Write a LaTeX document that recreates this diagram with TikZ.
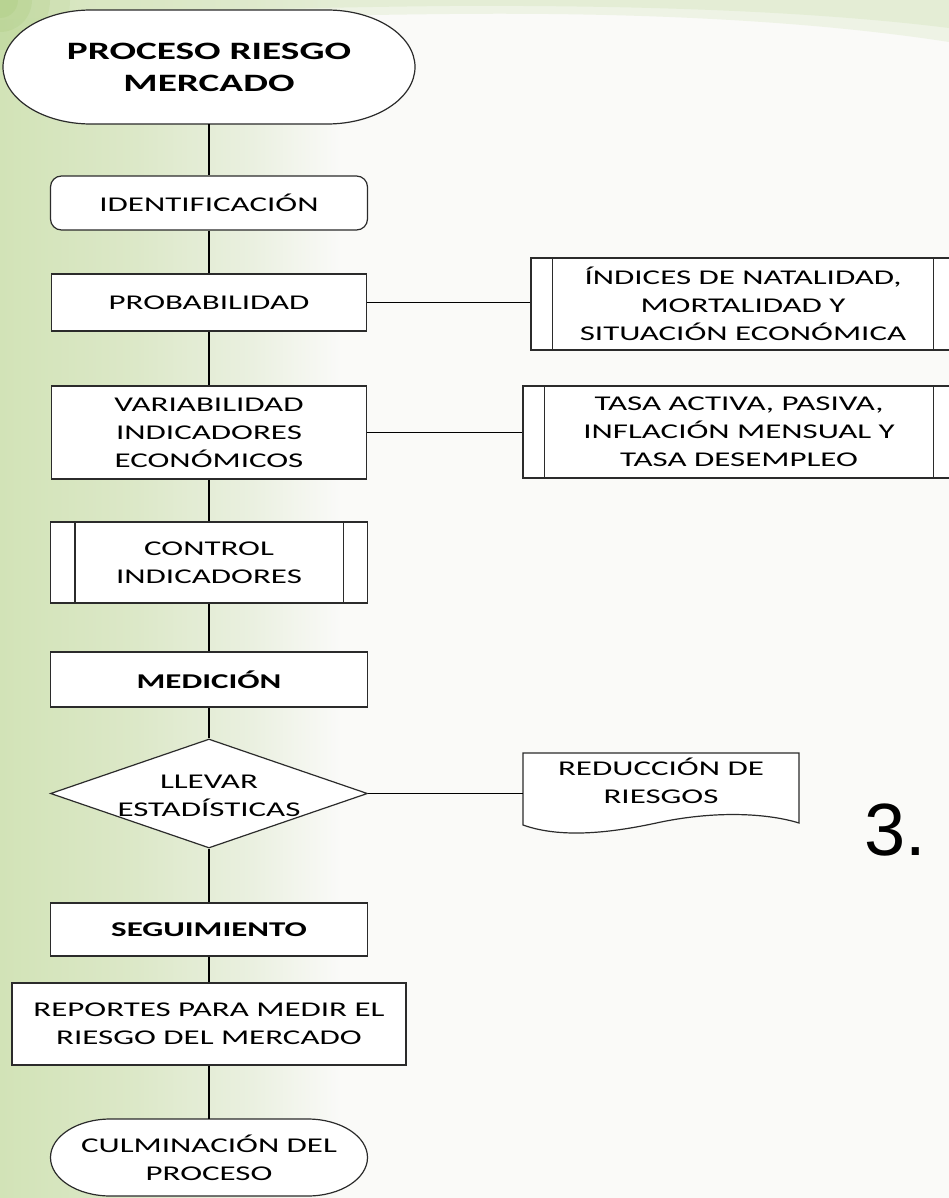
\documentclass[tikz,border=0pt]{standalone}
\usepackage{fontspec}
\setmainfont{Carlito}[FakeStretch=1.57]
\newfontfamily\numfont{Liberation Sans}
\usetikzlibrary{shapes.geometric}
\definecolor{bgwhite}{HTML}{FAFAF8}
\definecolor{gA}{HTML}{D2E3B7}
\definecolor{gB}{HTML}{DCE8C8}
\definecolor{gC}{HTML}{EAF0E0}
\definecolor{gTop}{HTML}{D9E7C2}
\definecolor{gCorner}{HTML}{A9CB7C}
\definecolor{edge}{HTML}{2B2B2B}
\pgfdeclarehorizontalshading{greenfade}{100bp}{color(0bp)=(gA); color(25bp)=(gA); color(45bp)=(gB); color(62bp)=(gC); color(75bp)=(bgwhite); color(100bp)=(bgwhite)}
\newcommand\boxfont{\fontsize{21}{28}\selectfont}
\newcommand\ttlfont{\fontsize{25}{32}\selectfont\bfseries}
\newcommand\termshape[5]{%
  \filldraw[outline] ({#1-#3+#5},{#2+#4}) -- ({#1+#3-#5},{#2+#4})
    arc[start angle=90,end angle=-90,x radius=#5,y radius=#4]
    -- ({#1-#3+#5},{#2-#4})
    arc[start angle=270,end angle=90,x radius=#5,y radius=#4] -- cycle;}
\begin{document}
\begin{tikzpicture}[x=1pt,y=1pt,
  outline/.style={draw=edge, line width=1.2pt, fill=white},
  box/.style={draw=edge, line width=1.2pt, fill=white, inner sep=0pt, align=center, font=\boxfont},
  plain/.style={draw=none, inner sep=0pt, align=center, font=\boxfont},
  conn/.style={draw=black, line width=1.5pt},
  inner/.style={draw=edge, line width=1.2pt}]
% background
\useasboundingbox (0,0) rectangle (949,-1198);
\clip (0,0) rectangle (949,-1198);
\fill[bgwhite] (0,0) rectangle (949,-1198);
\shade[shading=greenfade] (0,0) rectangle (340,-1198);
\fill[gTop, opacity=0.35] (0,0) -- (949,0) -- (949,-42) .. controls (820,-22) and (650,-12) .. (450,-14) .. controls (250,-16) and (100,-22) .. (0,-30) -- cycle;
\fill[gTop, opacity=0.45] (0,0) -- (949,0) -- (949,-28) .. controls (820,-12) and (650,-5) .. (450,-6) .. controls (250,-8) and (100,-14) .. (0,-20) -- cycle;
\foreach \r/\o in {70/0.15,50/0.2,32/0.25,18/0.3}
  \fill[gCorner, opacity=\o] (0,0) circle (\r);
% terminator outlines
\termshape{209}{-67}{206}{57}{88}
\termshape{209}{-1157.5}{158.5}{38.5}{60}
% document outline
\filldraw[outline] (523,-753) -- (799,-753) -- (799,-823)
  .. controls (770,-814) and (720,-810) .. (661,-822)
  .. controls (620,-831) and (565,-840) .. (523,-825) -- cycle;
% nodes
\node[plain, font=\ttlfont, minimum width=412, minimum height=114] (start) at (209,-67) {PROCESO RIESGO\\MERCADO};
\node[box, rounded corners=11pt, minimum width=317, minimum height=54] (ident) at (209,-203) {IDENTIFICACIÓN};
\node[box, minimum width=315, minimum height=57] (prob) at (209,-302.5) {PROBABILIDAD};
\node[box, minimum width=315, minimum height=93] (var) at (209,-432.5) {VARIABILIDAD\\INDICADORES\\ECONÓMICOS};
\node[box, minimum width=317, minimum height=81] (ctrl) at (209,-562.5) {CONTROL\\INDICADORES};
\node[box, font=\boxfont\bfseries, minimum width=317, minimum height=55] (med) at (209,-679.5) {MEDICIÓN};
\node[diamond, shape aspect=2.9, draw=edge, line width=1.2pt, fill=white, inner sep=0pt, minimum width=317, minimum height=109] (dia) at (209,-793.5) {};
\node[plain] (diat) at (209,-796) {LLEVAR\\ESTADÍSTICAS};
\node[box, font=\boxfont\bfseries, minimum width=317, minimum height=53] (seg) at (209,-929.5) {SEGUIMIENTO};
\node[box, minimum width=394, minimum height=82] (rep) at (209,-1024) {REPORTES PARA MEDIR EL\\RIESGO DEL MERCADO};
\node[plain, minimum width=317, minimum height=77] (culm) at (209,-1158) {CULMINACIÓN DEL\\PROCESO};
\node[box, minimum width=424, minimum height=92] (idx) at (743,-304) {ÍNDICES DE NATALIDAD,\\MORTALIDAD Y\\SITUACIÓN ECONÓMICA};
\node[box, minimum width=432, minimum height=92] (tasa) at (739,-432) {TASA ACTIVA, PASIVA,\\INFLACIÓN MENSUAL Y\\TASA DESEMPLEO};
\node[plain, minimum width=276, minimum height=56] (red) at (661,-781) {REDUCCIÓN DE\\RIESGOS};
\node[font=\numfont\fontsize{74}{74}\selectfont, anchor=base west, inner sep=0pt] (num) at (864,-855) {3.};
% predefined-process inner lines
\draw[inner] ([xshift=25pt]ctrl.north west) -- ([xshift=25pt]ctrl.south west);
\draw[inner] ([xshift=-25pt]ctrl.north east) -- ([xshift=-25pt]ctrl.south east);
\draw[inner] ([xshift=22pt]idx.north west) -- ([xshift=22pt]idx.south west);
\draw[inner] ([xshift=-22pt]idx.north east) -- ([xshift=-22pt]idx.south east);
\draw[inner] ([xshift=22pt]tasa.north west) -- ([xshift=22pt]tasa.south west);
\draw[inner] ([xshift=-22pt]tasa.north east) -- ([xshift=-22pt]tasa.south east);
% connectors
\draw[conn] (start.south) -- (ident.north);
\draw[conn] (ident.south) -- (prob.north);
\draw[conn] (prob.south) -- (var.north);
\draw[conn] (var.south) -- (ctrl.north);
\draw[conn] (ctrl.south) -- (med.north);
\draw[conn] (med.south) -- (dia.north);
\draw[conn] (dia.south) -- (seg.north);
\draw[conn] (seg.south) -- (rep.north);
\draw[conn] (rep.south) -- (culm.north);
\draw[conn] (prob.east) -- (prob.east -| idx.west);
\draw[conn] (var.east) -- (var.east -| tasa.west);
\draw[conn] (dia.east) -- (dia.east -| red.west);
\end{tikzpicture}
\end{document}
